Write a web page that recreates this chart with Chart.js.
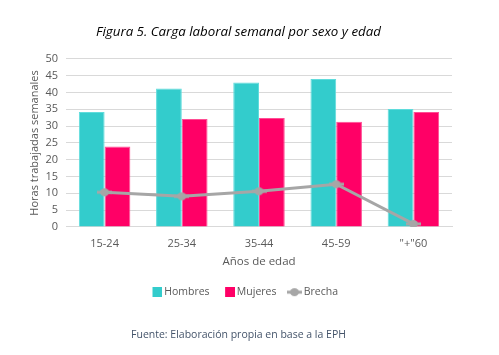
<!DOCTYPE html>
<html><head><meta charset="utf-8">
<script src="https://cdn.jsdelivr.net/npm/chart.js@4/dist/chart.umd.min.js"></script>
<style>html,body{margin:0;padding:0;background:#fff;}#wrap{width:499px;height:355px;}</style>
</head><body><div id="wrap"><canvas id="c" width="499" height="355"></canvas></div>
<script>
const categories = ['15-24', '25-34', '35-44', '45-59', '"+"60'];
const hombres = [34.2, 41.2, 43.0, 44.0, 35.1];
const mujeres = [23.9, 32.1, 32.4, 31.3, 34.2];
const brecha = [10.3, 9.1, 10.6, 12.7, 0.9];
const yTicks = [0, 5, 10, 15, 20, 25, 30, 35, 40, 45, 50];

const TEAL = '#33CCCC', PINK = '#FF0066', GRAY = '#A6A6A6', TXT = '#595959';
const FONT = "'Open Sans', sans-serif";

function sq(color) {
  const c = document.createElement('canvas'); c.width = 15; c.height = 10;
  const g = c.getContext('2d'); g.fillStyle = color; g.fillRect(5, 0, 10, 10); return c;
}
function lineSym() {
  const c = document.createElement('canvas'); c.width = 15; c.height = 10;
  const g = c.getContext('2d'); g.strokeStyle = GRAY; g.lineWidth = 3;
  g.beginPath(); g.moveTo(0, 5); g.lineTo(15, 5); g.stroke();
  g.fillStyle = GRAY; g.beginPath(); g.ellipse(7.5, 5, 4.5, 4, 0, 0, Math.PI * 2); g.fill(); return c;
}

const legendShift = {
  id: 'legendShift',
  afterLayout(chart) { if (chart.legend) { chart.legend.left += 6; chart.legend.right += 6; } }
};

new Chart(document.getElementById('c'), {
  data: {
    labels: categories,
    datasets: [
      { type: 'line', label: 'Brecha', data: brecha, borderColor: GRAY, backgroundColor: GRAY,
        borderWidth: 3, pointRadius: 4, pointHoverRadius: 4, pointStyle: lineSym(), order: 0 },
      { type: 'bar', label: 'Hombres', data: hombres, backgroundColor: TEAL, borderColor: '#5fdcdc', borderWidth: 1,
        pointStyle: sq(TEAL), order: 1, categoryPercentage: 0.667, barPercentage: 1.0 },
      { type: 'bar', label: 'Mujeres', data: mujeres, backgroundColor: PINK, borderColor: '#ff4d94', borderWidth: 1,
        pointStyle: sq(PINK), order: 2, categoryPercentage: 0.667, barPercentage: 1.0 }
    ]
  },
  plugins: [legendShift],
  options: {
    responsive: false, animation: false,
    layout: { padding: { left: 0, right: 22, top: 0, bottom: 0 } },
    plugins: {
      tooltip: { enabled: false },
      title: { display: true, text: 'Figura 5. Carga laboral semanal por sexo y edad', color: '#000',
        font: { family: FONT, size: 13.3, style: 'italic', weight: 'normal' }, padding: { top: 24, bottom: 19 } },
      subtitle: { display: true, position: 'bottom', text: 'Fuente: Elaboración propia en base a la EPH',
        color: '#44546A', font: { family: FONT, size: 10.5 }, padding: { top: 21, bottom: 14 } },
      legend: { position: 'bottom',
        labels: { usePointStyle: true, pointStyleWidth: 8, color: TXT, font: { family: FONT, size: 10.5 }, padding: 14,
          sort: (a, b) => ['Hombres','Mujeres','Brecha'].indexOf(a.text) - ['Hombres','Mujeres','Brecha'].indexOf(b.text) } }
    },
    scales: {
      x: { grid: { display: false }, border: { display: true, color: '#d9d9d9' },
        ticks: { color: TXT, font: { family: FONT, size: 11 }, padding: 2 },
        title: { display: true, text: 'Años de edad', color: TXT, font: { family: FONT, size: 11.5 }, padding: { top: 3, bottom: 4 } } },
      y: { min: 0, max: 50, afterBuildTicks: s => { s.ticks = yTicks.map(v => ({ value: v })); },
        grid: { color: '#d9d9d9', drawTicks: false }, border: { display: false },
        ticks: { color: TXT, font: { family: FONT, size: 11 }, padding: 8, autoSkip: false },
        title: { display: true, text: 'Horas trabajadas semanales', color: TXT, font: { family: FONT, size: 11 }, padding: { top: 28, bottom: 0 } },
        afterFit: s => { s.width = 66; } },
      y2: { position: 'right', display: true, grid: { display: false }, border: { display: false },
        ticks: { display: false }, afterFit: s => { s.width = 25; } }
    }
  }
});
</script></body></html>
